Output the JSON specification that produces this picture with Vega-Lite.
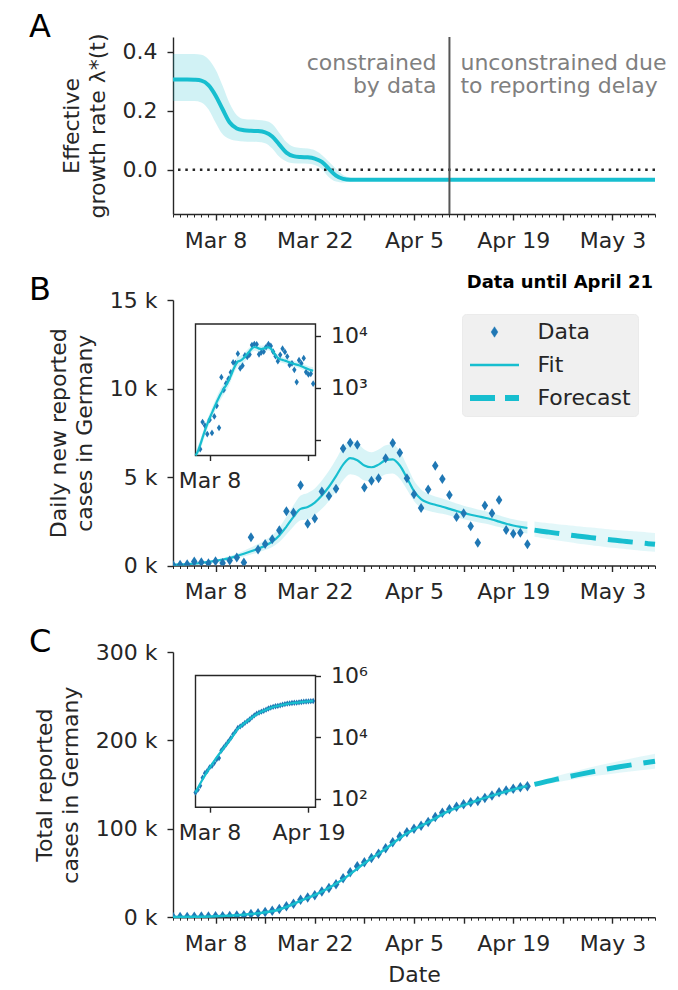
{
 "$schema": "https://vega.github.io/schema/vega-lite/v6.json",
 "padding": {"left": 29, "top": 11, "right": 4, "bottom": 0},
 "background": "white",
 "spacing": 86,
 "bounds": "flush",
 "resolve": {"scale": {"color": "independent"}, "legend": {"color": "independent"}},
 "datasets": {
  "rate": [
   {"date":"2020-03-02","mean":0.306,"lo":0.233,"hi":0.392},
   {"date":"2020-03-03","mean":0.306,"lo":0.233,"hi":0.392},
   {"date":"2020-03-04","mean":0.306,"lo":0.233,"hi":0.392},
   {"date":"2020-03-05","mean":0.305,"lo":0.233,"hi":0.392},
   {"date":"2020-03-06","mean":0.302,"lo":0.228,"hi":0.39},
   {"date":"2020-03-07","mean":0.287,"lo":0.205,"hi":0.375},
   {"date":"2020-03-08","mean":0.252,"lo":0.16,"hi":0.34},
   {"date":"2020-03-09","mean":0.205,"lo":0.12,"hi":0.285},
   {"date":"2020-03-10","mean":0.16,"lo":0.104,"hi":0.225},
   {"date":"2020-03-11","mean":0.14,"lo":0.098,"hi":0.185},
   {"date":"2020-03-12","mean":0.134,"lo":0.096,"hi":0.172},
   {"date":"2020-03-13","mean":0.132,"lo":0.095,"hi":0.17},
   {"date":"2020-03-14","mean":0.131,"lo":0.094,"hi":0.169},
   {"date":"2020-03-15","mean":0.127,"lo":0.09,"hi":0.166},
   {"date":"2020-03-16","mean":0.113,"lo":0.072,"hi":0.155},
   {"date":"2020-03-17","mean":0.085,"lo":0.044,"hi":0.125},
   {"date":"2020-03-18","mean":0.058,"lo":0.028,"hi":0.094},
   {"date":"2020-03-19","mean":0.046,"lo":0.022,"hi":0.078},
   {"date":"2020-03-20","mean":0.043,"lo":0.021,"hi":0.074},
   {"date":"2020-03-21","mean":0.042,"lo":0.02,"hi":0.072},
   {"date":"2020-03-22","mean":0.038,"lo":0.016,"hi":0.066},
   {"date":"2020-03-23","mean":0.027,"lo":0.002,"hi":0.05},
   {"date":"2020-03-24","mean":0.003,"lo":-0.025,"hi":0.027},
   {"date":"2020-03-25","mean":-0.02,"lo":-0.04,"hi":0.003},
   {"date":"2020-03-26","mean":-0.031,"lo":-0.043,"hi":-0.018},
   {"date":"2020-03-27","mean":-0.034,"lo":-0.04,"hi":-0.027},
   {"date":"2020-03-28","mean":-0.034,"lo":-0.038,"hi":-0.03},
   {"date":"2020-04-10","mean":-0.034,"lo":-0.037,"hi":-0.031},
   {"date":"2020-05-09","mean":-0.034,"lo":-0.037,"hi":-0.031}
  ],
  "obs": [
   {"date":"2020-03-02","cases":29,"total":159},
   {"date":"2020-03-03","cases":37,"total":196},
   {"date":"2020-03-04","cases":66,"total":262},
   {"date":"2020-03-05","cases":220,"total":482},
   {"date":"2020-03-06","cases":188,"total":670},
   {"date":"2020-03-07","cases":129,"total":799},
   {"date":"2020-03-08","cases":241,"total":1040},
   {"date":"2020-03-09","cases":136,"total":1176},
   {"date":"2020-03-10","cases":281,"total":1457},
   {"date":"2020-03-11","cases":451,"total":1908},
   {"date":"2020-03-12","cases":170,"total":2078},
   {"date":"2020-03-13","cases":1597,"total":3675},
   {"date":"2020-03-14","cases":910,"total":4585},
   {"date":"2020-03-15","cases":1210,"total":5795},
   {"date":"2020-03-16","cases":1477,"total":7272},
   {"date":"2020-03-17","cases":1985,"total":9257},
   {"date":"2020-03-18","cases":3070,"total":12327},
   {"date":"2020-03-19","cases":2993,"total":15320},
   {"date":"2020-03-20","cases":4528,"total":19848},
   {"date":"2020-03-21","cases":2365,"total":22213},
   {"date":"2020-03-22","cases":2660,"total":24873},
   {"date":"2020-03-23","cases":4183,"total":29056},
   {"date":"2020-03-24","cases":3930,"total":32986},
   {"date":"2020-03-25","cases":4337,"total":37323},
   {"date":"2020-03-26","cases":6615,"total":43938},
   {"date":"2020-03-27","cases":6933,"total":50871},
   {"date":"2020-03-28","cases":6824,"total":57695},
   {"date":"2020-03-29","cases":4400,"total":62095},
   {"date":"2020-03-30","cases":4790,"total":66885},
   {"date":"2020-03-31","cases":4923,"total":71808},
   {"date":"2020-04-01","cases":6064,"total":77872},
   {"date":"2020-04-02","cases":6922,"total":84794},
   {"date":"2020-04-03","cases":6365,"total":91159},
   {"date":"2020-04-04","cases":4933,"total":96092},
   {"date":"2020-04-05","cases":4031,"total":100123},
   {"date":"2020-04-06","cases":3251,"total":103374},
   {"date":"2020-04-07","cases":4289,"total":107663},
   {"date":"2020-04-08","cases":5633,"total":113296},
   {"date":"2020-04-09","cases":4885,"total":118181},
   {"date":"2020-04-10","cases":3990,"total":122171},
   {"date":"2020-04-11","cases":2737,"total":124908},
   {"date":"2020-04-12","cases":2946,"total":127854},
   {"date":"2020-04-13","cases":2218,"total":130072},
   {"date":"2020-04-14","cases":1287,"total":131359},
   {"date":"2020-04-15","cases":3394,"total":134753},
   {"date":"2020-04-16","cases":2945,"total":137698},
   {"date":"2020-04-17","cases":3699,"total":141397},
   {"date":"2020-04-18","cases":2000,"total":143397},
   {"date":"2020-04-19","cases":1800,"total":145197},
   {"date":"2020-04-20","cases":1850,"total":147047},
   {"date":"2020-04-21","cases":1200,"total":148247}
  ],
  "fitB": [
   {"date":"2020-03-02","fit":45,"lo":35,"hi":58},
   {"date":"2020-03-03","fit":60,"lo":47,"hi":76},
   {"date":"2020-03-04","fit":80,"lo":62,"hi":100},
   {"date":"2020-03-05","fit":110,"lo":86,"hi":138},
   {"date":"2020-03-06","fit":150,"lo":118,"hi":188},
   {"date":"2020-03-07","fit":200,"lo":158,"hi":250},
   {"date":"2020-03-08","fit":260,"lo":205,"hi":325},
   {"date":"2020-03-09","fit":330,"lo":260,"hi":415},
   {"date":"2020-03-10","fit":420,"lo":330,"hi":530},
   {"date":"2020-03-11","fit":530,"lo":415,"hi":670},
   {"date":"2020-03-12","fit":660,"lo":515,"hi":840},
   {"date":"2020-03-13","fit":800,"lo":620,"hi":1020},
   {"date":"2020-03-14","fit":950,"lo":740,"hi":1210},
   {"date":"2020-03-15","fit":1120,"lo":870,"hi":1430},
   {"date":"2020-03-16","fit":1350,"lo":1050,"hi":1720},
   {"date":"2020-03-17","fit":1700,"lo":1330,"hi":2150},
   {"date":"2020-03-18","fit":2200,"lo":1750,"hi":2750},
   {"date":"2020-03-19","fit":2750,"lo":2200,"hi":3400},
   {"date":"2020-03-20","fit":3200,"lo":2550,"hi":3950},
   {"date":"2020-03-21","fit":3300,"lo":2600,"hi":4100},
   {"date":"2020-03-22","fit":3550,"lo":2850,"hi":4350},
   {"date":"2020-03-23","fit":3950,"lo":3200,"hi":4800},
   {"date":"2020-03-24","fit":4450,"lo":3650,"hi":5350},
   {"date":"2020-03-25","fit":5050,"lo":4200,"hi":6000},
   {"date":"2020-03-26","fit":5700,"lo":4800,"hi":6700},
   {"date":"2020-03-27","fit":6070,"lo":5150,"hi":7050},
   {"date":"2020-03-28","fit":5950,"lo":5050,"hi":6900},
   {"date":"2020-03-29","fit":5650,"lo":4800,"hi":6550},
   {"date":"2020-03-30","fit":5550,"lo":4750,"hi":6400},
   {"date":"2020-03-31","fit":5700,"lo":4900,"hi":6550},
   {"date":"2020-04-01","fit":5950,"lo":5150,"hi":6800},
   {"date":"2020-04-02","fit":6000,"lo":5200,"hi":6850},
   {"date":"2020-04-03","fit":5650,"lo":4900,"hi":6450},
   {"date":"2020-04-04","fit":4950,"lo":4300,"hi":5650},
   {"date":"2020-04-05","fit":4200,"lo":3650,"hi":4800},
   {"date":"2020-04-06","fit":3750,"lo":3250,"hi":4300},
   {"date":"2020-04-07","fit":3550,"lo":3100,"hi":4050},
   {"date":"2020-04-08","fit":3430,"lo":3000,"hi":3900},
   {"date":"2020-04-09","fit":3320,"lo":2920,"hi":3780},
   {"date":"2020-04-10","fit":3200,"lo":2820,"hi":3640},
   {"date":"2020-04-11","fit":3080,"lo":2720,"hi":3500},
   {"date":"2020-04-12","fit":2970,"lo":2620,"hi":3380},
   {"date":"2020-04-13","fit":2870,"lo":2530,"hi":3270},
   {"date":"2020-04-14","fit":2780,"lo":2450,"hi":3170},
   {"date":"2020-04-15","fit":2700,"lo":2370,"hi":3080},
   {"date":"2020-04-16","fit":2600,"lo":2280,"hi":2970},
   {"date":"2020-04-17","fit":2480,"lo":2170,"hi":2840},
   {"date":"2020-04-18","fit":2360,"lo":2060,"hi":2710},
   {"date":"2020-04-19","fit":2260,"lo":1960,"hi":2610},
   {"date":"2020-04-20","fit":2180,"lo":1880,"hi":2530},
   {"date":"2020-04-21","fit":2120,"lo":1810,"hi":2480}
  ],
  "fcB": [
   {"date":"2020-04-22","fit":2000,"lo":1620,"hi":2480},
   {"date":"2020-04-23","fit":1940,"lo":1560,"hi":2430},
   {"date":"2020-04-24","fit":1885,"lo":1490,"hi":2390},
   {"date":"2020-04-25","fit":1830,"lo":1430,"hi":2350},
   {"date":"2020-04-26","fit":1775,"lo":1370,"hi":2300},
   {"date":"2020-04-27","fit":1720,"lo":1310,"hi":2260},
   {"date":"2020-04-28","fit":1670,"lo":1250,"hi":2220},
   {"date":"2020-04-29","fit":1620,"lo":1200,"hi":2180},
   {"date":"2020-04-30","fit":1575,"lo":1150,"hi":2140},
   {"date":"2020-05-01","fit":1530,"lo":1100,"hi":2100},
   {"date":"2020-05-02","fit":1485,"lo":1050,"hi":2060},
   {"date":"2020-05-03","fit":1440,"lo":1000,"hi":2020},
   {"date":"2020-05-04","fit":1400,"lo":960,"hi":1990},
   {"date":"2020-05-05","fit":1355,"lo":920,"hi":1960},
   {"date":"2020-05-06","fit":1315,"lo":880,"hi":1930},
   {"date":"2020-05-07","fit":1275,"lo":840,"hi":1900},
   {"date":"2020-05-08","fit":1235,"lo":810,"hi":1870},
   {"date":"2020-05-09","fit":1195,"lo":780,"hi":1840}
  ],
  "fitC": [
   {"date":"2020-03-02","fit":160,"lo":150,"hi":170},
   {"date":"2020-03-05","fit":420,"lo":395,"hi":445},
   {"date":"2020-03-08","fit":1000,"lo":950,"hi":1060},
   {"date":"2020-03-11","fit":2200,"lo":2080,"hi":2330},
   {"date":"2020-03-14","fit":4400,"lo":4150,"hi":4650},
   {"date":"2020-03-17","fit":8700,"lo":8300,"hi":9100},
   {"date":"2020-03-20","fit":18500,"lo":17800,"hi":19300},
   {"date":"2020-03-23","fit":29000,"lo":28000,"hi":30000},
   {"date":"2020-03-26","fit":43000,"lo":41700,"hi":44300},
   {"date":"2020-03-29","fit":61000,"lo":59300,"hi":62700},
   {"date":"2020-04-01","fit":77500,"lo":75500,"hi":79500},
   {"date":"2020-04-04","fit":95000,"lo":92800,"hi":97200},
   {"date":"2020-04-07","fit":107500,"lo":105000,"hi":110000},
   {"date":"2020-04-10","fit":120500,"lo":117800,"hi":123200},
   {"date":"2020-04-13","fit":129500,"lo":126600,"hi":132400},
   {"date":"2020-04-16","fit":137500,"lo":134300,"hi":140700},
   {"date":"2020-04-19","fit":144500,"lo":141000,"hi":148000},
   {"date":"2020-04-21","fit":148500,"lo":144800,"hi":152200}
  ],
  "fcC": [
   {"date":"2020-04-22","fit":150200,"lo":148000,"hi":152500},
   {"date":"2020-04-25","fit":155900,"lo":152500,"hi":159500},
   {"date":"2020-04-28","fit":161000,"lo":156500,"hi":165800},
   {"date":"2020-05-01","fit":165800,"lo":160200,"hi":171500},
   {"date":"2020-05-04","fit":170100,"lo":163500,"hi":176800},
   {"date":"2020-05-07","fit":174000,"lo":166300,"hi":181800},
   {"date":"2020-05-09","fit":176500,"lo":168000,"hi":185000}
  ]
 },
 "vconcat": [
  {
   "width": 482, "height": 177,
   "layer": [
    {"data": {"name": "rate"},
     "mark": {"type": "area", "interpolate": "monotone", "color": "#17becf", "opacity": 0.2},
     "encoding": {
      "x": {"field": "date", "type": "temporal", "scale": {"type": "utc", "domain": [{"year":2020,"month":3,"date":2,"utc":true},{"year":2020,"month":5,"date":9,"utc":true}]},
            "axis": {"orient": "bottom", "values": [{"year":2020,"month":3,"date":8,"utc":true},{"year":2020,"month":3,"date":15,"utc":true},{"year":2020,"month":3,"date":22,"utc":true},{"year":2020,"month":3,"date":29,"utc":true},{"year":2020,"month":4,"date":5,"utc":true},{"year":2020,"month":4,"date":12,"utc":true},{"year":2020,"month":4,"date":19,"utc":true},{"year":2020,"month":4,"date":26,"utc":true},{"year":2020,"month":5,"date":3,"utc":true}], "format": "%b %-d", "labelExpr": "indexof(['Mar 8','Mar 22','Apr 5','Apr 19','May 3'], datum.label) >= 0 ? datum.label : ''", "title": null}},
      "y": {"field": "lo", "type": "quantitative", "scale": {"domain": [-0.15, 0.45], "nice": false, "zero": false},
            "axis": {"orient": "left", "values": [0, 0.2, 0.4], "format": ".1f", "title": ["Effective", "growth rate λ*(t)"], "titleLineHeight": 26}},
      "y2": {"field": "hi"}
     }},
    {"data": {"values": [{}]},
     "mark": {"type": "rule", "color": "#262626", "strokeWidth": 2.5, "strokeDash": [2.5, 4.8]},
     "encoding": {"y": {"datum": 0, "type": "quantitative", "scale": {"domain": [-0.15, 0.45], "nice": false, "zero": false}, "axis": null}}},
    {"data": {"name": "rate"},
     "mark": {"type": "line", "interpolate": "monotone", "color": "#17becf", "strokeWidth": 4},
     "encoding": {
      "x": {"field": "date", "type": "temporal", "scale": {"type": "utc", "domain": [{"year":2020,"month":3,"date":2,"utc":true},{"year":2020,"month":5,"date":9,"utc":true}]},
            "axis": {"orient": "bottom", "tickCount": {"interval": "day", "step": 1}, "labels": false, "domain": false, "tickSize": 3, "tickWidth": 1, "title": null}},
      "y": {"field": "mean", "type": "quantitative", "scale": {"domain": [-0.15, 0.45], "nice": false, "zero": false}, "axis": null}
     }},
    {"data": {"values": [{}]},
     "mark": {"type": "rule", "color": "#555555", "strokeWidth": 2},
     "encoding": {"x": {"datum": {"year":2020,"month":4,"date":10,"utc":true}, "type": "temporal", "scale": {"type": "utc", "domain": [{"year":2020,"month":3,"date":2,"utc":true},{"year":2020,"month":5,"date":9,"utc":true}]}, "axis": null}}},
    {"data": {"values": [{}]},
     "mark": {"type": "text", "text": ["constrained", "by data"], "align": "right", "baseline": "alphabetic", "dx": -13, "dy": 33, "fontSize": 22, "lineHeight": 23, "color": "#808080"},
     "encoding": {
      "x": {"datum": {"year":2020,"month":4,"date":10,"utc":true}, "type": "temporal", "scale": {"type": "utc", "domain": [{"year":2020,"month":3,"date":2,"utc":true},{"year":2020,"month":5,"date":9,"utc":true}]}, "axis": null},
      "y": {"datum": 0.45, "type": "quantitative", "scale": {"domain": [-0.15, 0.45], "nice": false, "zero": false}, "axis": null}
     }},
    {"data": {"values": [{}]},
     "mark": {"type": "text", "text": ["unconstrained due", "to reporting delay"], "align": "left", "baseline": "alphabetic", "dx": 11, "dy": 33, "fontSize": 22, "lineHeight": 23, "color": "#808080"},
     "encoding": {
      "x": {"datum": {"year":2020,"month":4,"date":10,"utc":true}, "type": "temporal", "scale": {"type": "utc", "domain": [{"year":2020,"month":3,"date":2,"utc":true},{"year":2020,"month":5,"date":9,"utc":true}]}, "axis": null},
      "y": {"datum": 0.45, "type": "quantitative", "scale": {"domain": [-0.15, 0.45], "nice": false, "zero": false}, "axis": null}
     }},
    {"data": {"values": [{}]},
     "mark": {"type": "text", "text": "A", "align": "left", "baseline": "alphabetic", "dx": -144, "fontSize": 32, "color": "#000000"},
     "encoding": {
      "x": {"datum": {"year":2020,"month":3,"date":2,"utc":true}, "type": "temporal", "scale": {"type": "utc", "domain": [{"year":2020,"month":3,"date":2,"utc":true},{"year":2020,"month":5,"date":9,"utc":true}]}, "axis": null},
      "y": {"datum": 0.45, "type": "quantitative", "scale": {"domain": [-0.15, 0.45], "nice": false, "zero": false}, "axis": null}
     }}
   ],
   "resolve": {"axis": {"x": "independent", "y": "independent"}}
  },
  {
   "width": 482, "height": 265.5,
   "layer": [
    {
     "layer": [
      {"data": {"name": "fitB"},
       "mark": {"type": "area", "interpolate": "monotone", "color": "#17becf", "opacity": 0.17},
       "encoding": {
        "x": {"field": "date", "type": "temporal", "scale": {"type": "utc", "domain": [{"year":2020,"month":3,"date":2,"utc":true},{"year":2020,"month":5,"date":9,"utc":true}]},
              "axis": {"orient": "bottom", "values": [{"year":2020,"month":3,"date":8,"utc":true},{"year":2020,"month":3,"date":15,"utc":true},{"year":2020,"month":3,"date":22,"utc":true},{"year":2020,"month":3,"date":29,"utc":true},{"year":2020,"month":4,"date":5,"utc":true},{"year":2020,"month":4,"date":12,"utc":true},{"year":2020,"month":4,"date":19,"utc":true},{"year":2020,"month":4,"date":26,"utc":true},{"year":2020,"month":5,"date":3,"utc":true}], "format": "%b %-d", "labelExpr": "indexof(['Mar 8','Mar 22','Apr 5','Apr 19','May 3'], datum.label) >= 0 ? datum.label : ''", "title": null}},
        "y": {"field": "lo", "type": "quantitative", "scale": {"domain": [0, 15000], "nice": false},
              "axis": {"orient": "left", "values": [0, 5000, 10000, 15000], "labelExpr": "(datum.value / 1000) + ' k'", "title": ["Daily new reported", "cases in Germany"], "titleLineHeight": 26}},
        "y2": {"field": "hi"}
       }},
      {"data": {"name": "fcB"},
       "mark": {"type": "area", "interpolate": "monotone", "color": "#17becf", "opacity": 0.12},
       "encoding": {
        "x": {"field": "date", "type": "temporal", "scale": {"type": "utc", "domain": [{"year":2020,"month":3,"date":2,"utc":true},{"year":2020,"month":5,"date":9,"utc":true}]}, "axis": null},
        "y": {"field": "lo", "type": "quantitative", "scale": {"domain": [0, 15000], "nice": false}, "axis": null},
        "y2": {"field": "hi"}
       }},
      {"data": {"name": "fitB"},
       "mark": {"type": "line", "interpolate": "monotone", "strokeWidth": 2.2},
       "encoding": {
        "x": {"field": "date", "type": "temporal", "scale": {"type": "utc", "domain": [{"year":2020,"month":3,"date":2,"utc":true},{"year":2020,"month":5,"date":9,"utc":true}]},
              "axis": {"orient": "bottom", "tickCount": {"interval": "day", "step": 1}, "labels": false, "domain": false, "tickSize": 3, "tickWidth": 1, "title": null}},
        "y": {"field": "fit", "type": "quantitative", "scale": {"domain": [0, 15000], "nice": false}, "axis": null},
        "color": {"datum": "Fit", "type": "nominal", "scale": {"domain": ["Data", "Fit", "Forecast"], "range": ["#1f77b4", "#17becf", "#17becf"]},
                  "legend": {"orient": "none", "legendX": 289, "legendY": 14, "title": null, "fillColor": "#f0f0f0", "strokeColor": "#ebebeb", "cornerRadius": 4, "padding": 7,
                             "labelFont": "DejaVu Sans", "labelFontSize": 22, "labelColor": "#262626", "symbolType": "stroke", "symbolSize": 2400, "clipHeight": 22, "rowPadding": 11, "labelOffset": 32, "symbolOffset": 14.5,
                             "encode": {"symbols": {"update": {
                               "shape": {"signal": "datum.value === 'Data' ? 'M0,-1L0.65,0L0,1L-0.65,0Z' : 'stroke'"},
                               "size": {"signal": "datum.value === 'Data' ? 110 : 2400"},
                               "fill": {"signal": "datum.value === 'Data' ? '#1f77b4' : 'transparent'"},
                               "stroke": {"signal": "datum.value === 'Data' ? '#1f77b4' : '#17becf'"},
                               "strokeWidth": {"signal": "datum.value === 'Data' ? 0.5 : (datum.value === 'Fit' ? 2.5 : 6)"},
                               "strokeDash": {"signal": "datum.value === 'Forecast' ? [25, 10] : [1, 0]"},
                               "opacity": {"value": 1}
                             }}}}}
       }},
      {"data": {"name": "fcB"},
       "mark": {"type": "line", "interpolate": "monotone", "strokeWidth": 5, "strokeDash": [25, 12]},
       "encoding": {
        "x": {"field": "date", "type": "temporal", "scale": {"type": "utc", "domain": [{"year":2020,"month":3,"date":2,"utc":true},{"year":2020,"month":5,"date":9,"utc":true}]}, "axis": null},
        "y": {"field": "fit", "type": "quantitative", "scale": {"domain": [0, 15000], "nice": false}, "axis": null},
        "color": {"datum": "Forecast", "type": "nominal", "scale": {"domain": ["Data", "Fit", "Forecast"], "range": ["#1f77b4", "#17becf", "#17becf"]}}
       }},
      {"data": {"name": "obs"},
       "mark": {"type": "point", "shape": "M0,-1L0.65,0L0,1L-0.65,0Z", "filled": true, "size": 100, "opacity": 1, "clip": true},
       "encoding": {
        "x": {"field": "date", "type": "temporal", "scale": {"type": "utc", "domain": [{"year":2020,"month":3,"date":2,"utc":true},{"year":2020,"month":5,"date":9,"utc":true}]}, "axis": null},
        "y": {"field": "cases", "type": "quantitative", "scale": {"domain": [0, 15000], "nice": false}, "axis": null},
        "color": {"datum": "Data", "type": "nominal", "scale": {"domain": ["Data", "Fit", "Forecast"], "range": ["#1f77b4", "#17becf", "#17becf"]}}
       }},
      {"data": {"values": [{}]},
       "mark": {"type": "text", "text": "Data until April 21", "align": "right", "baseline": "alphabetic", "dx": -2, "dy": -12.5, "fontSize": 18, "fontWeight": "bold", "color": "#000000"},
       "encoding": {
        "x": {"datum": {"year":2020,"month":5,"date":9,"utc":true}, "type": "temporal", "scale": {"type": "utc", "domain": [{"year":2020,"month":3,"date":2,"utc":true},{"year":2020,"month":5,"date":9,"utc":true}]}, "axis": null},
        "y": {"datum": 15000, "type": "quantitative", "scale": {"domain": [0, 15000], "nice": false}, "axis": null}
       }},
      {"data": {"values": [{}]},
       "mark": {"type": "text", "text": "B", "align": "left", "baseline": "alphabetic", "dx": -144, "fontSize": 32, "color": "#000000"},
       "encoding": {
        "x": {"datum": {"year":2020,"month":3,"date":2,"utc":true}, "type": "temporal", "scale": {"type": "utc", "domain": [{"year":2020,"month":3,"date":2,"utc":true},{"year":2020,"month":5,"date":9,"utc":true}]}, "axis": null},
        "y": {"datum": 15000, "type": "quantitative", "scale": {"domain": [0, 15000], "nice": false}, "axis": null}
       }}
     ],
     "resolve": {"axis": {"x": "independent", "y": "independent"}}
    },
    {
     "layer": [
      {"data": {"values": [{}]},
       "mark": {"type": "rect", "fill": "white", "stroke": "#262626", "strokeWidth": 1.4},
       "encoding": {
        "x": {"datum": {"year":2020,"month":3,"date":2,"utc":true}, "type": "temporal", "scale": {"type": "utc", "domain": [{"year":2020,"month":3,"date":2,"utc":true},{"year":2020,"month":4,"date":22,"utc":true}], "range": [22.5, 142.5]},
              "axis": {"orient": "bottom", "values": [{"year":2020,"month":3,"date":8,"utc":true},{"year":2020,"month":4,"date":19,"utc":true}], "format": "%b %-d", "labelExpr": "datum.label == 'Mar 8' ? datum.label : ''", "title": null, "offset": -110, "domain": false, "zindex": 1, "tickSize": 5}},
        "x2": {"datum": {"year":2020,"month":4,"date":22,"utc":true}},
        "y": {"datum": 50, "type": "quantitative", "scale": {"type": "log", "domain": [50, 16800], "range": [155.5, 24], "nice": false, "clamp": true},
              "axis": {"orient": "right", "values": [100, 1000, 10000], "labelExpr": "datum.value == 10000 ? '10⁴' : (datum.value == 1000 ? '10³' : '')", "title": null, "offset": -339.5, "domain": false, "zindex": 1, "tickSize": 5}},
        "y2": {"datum": 16800}
       }},
      {"data": {"name": "fitB"},
       "mark": {"type": "area", "interpolate": "monotone", "color": "#17becf", "opacity": 0.17},
       "encoding": {
        "x": {"field": "date", "type": "temporal", "scale": {"type": "utc", "domain": [{"year":2020,"month":3,"date":2,"utc":true},{"year":2020,"month":4,"date":22,"utc":true}], "range": [22.5, 142.5]}, "axis": null},
        "y": {"field": "lo", "type": "quantitative", "scale": {"type": "log", "domain": [50, 16800], "range": [155.5, 24], "nice": false, "clamp": true}, "axis": null},
        "y2": {"field": "hi"}
       }},
      {"data": {"name": "obs"},
       "transform": [{"filter": "datum.cases >= 50"}],
       "mark": {"type": "point", "shape": "M0,-1L0.65,0L0,1L-0.65,0Z", "filled": true, "size": 45, "opacity": 1, "color": "#1f77b4"},
       "encoding": {
        "x": {"field": "date", "type": "temporal", "scale": {"type": "utc", "domain": [{"year":2020,"month":3,"date":2,"utc":true},{"year":2020,"month":4,"date":22,"utc":true}], "range": [22.5, 142.5]}, "axis": null},
        "y": {"field": "cases", "type": "quantitative", "scale": {"type": "log", "domain": [50, 16800], "range": [155.5, 24], "nice": false, "clamp": true}, "axis": null}
       }},
      {"data": {"name": "fitB"},
       "mark": {"type": "line", "interpolate": "monotone", "color": "#17becf", "strokeWidth": 2.2},
       "encoding": {
        "x": {"field": "date", "type": "temporal", "scale": {"type": "utc", "domain": [{"year":2020,"month":3,"date":2,"utc":true},{"year":2020,"month":4,"date":22,"utc":true}], "range": [22.5, 142.5]}, "axis": null},
        "y": {"field": "fit", "type": "quantitative", "scale": {"type": "log", "domain": [50, 16800], "range": [155.5, 24], "nice": false, "clamp": true}, "axis": null}
       }}
     ],
     "resolve": {"axis": {"x": "independent", "y": "independent"}}
    }
   ],
   "resolve": {"scale": {"x": "independent", "y": "independent"}}
  },
  {
   "width": 482, "height": 265.2,
   "layer": [
    {
     "layer": [
      {"data": {"name": "fitC"},
       "mark": {"type": "area", "interpolate": "monotone", "color": "#17becf", "opacity": 0.12},
       "encoding": {
        "x": {"field": "date", "type": "temporal", "scale": {"type": "utc", "domain": [{"year":2020,"month":3,"date":2,"utc":true},{"year":2020,"month":5,"date":9,"utc":true}]},
              "axis": {"orient": "bottom", "values": [{"year":2020,"month":3,"date":8,"utc":true},{"year":2020,"month":3,"date":15,"utc":true},{"year":2020,"month":3,"date":22,"utc":true},{"year":2020,"month":3,"date":29,"utc":true},{"year":2020,"month":4,"date":5,"utc":true},{"year":2020,"month":4,"date":12,"utc":true},{"year":2020,"month":4,"date":19,"utc":true},{"year":2020,"month":4,"date":26,"utc":true},{"year":2020,"month":5,"date":3,"utc":true}], "format": "%b %-d", "labelExpr": "indexof(['Mar 8','Mar 22','Apr 5','Apr 19','May 3'], datum.label) >= 0 ? datum.label : ''", "title": "Date", "titlePadding": 10}},
        "y": {"field": "lo", "type": "quantitative", "scale": {"domain": [0, 300000], "nice": false},
              "axis": {"orient": "left", "values": [0, 100000, 200000, 300000], "labelExpr": "(datum.value / 1000) + ' k'", "title": ["Total reported", "cases in Germany"], "titleLineHeight": 26}},
        "y2": {"field": "hi"}
       }},
      {"data": {"name": "fcC"},
       "mark": {"type": "area", "interpolate": "monotone", "color": "#17becf", "opacity": 0.12},
       "encoding": {
        "x": {"field": "date", "type": "temporal", "scale": {"type": "utc", "domain": [{"year":2020,"month":3,"date":2,"utc":true},{"year":2020,"month":5,"date":9,"utc":true}]}, "axis": null},
        "y": {"field": "lo", "type": "quantitative", "scale": {"domain": [0, 300000], "nice": false}, "axis": null},
        "y2": {"field": "hi"}
       }},
      {"data": {"name": "obs"},
       "mark": {"type": "point", "shape": "M0,-1L0.65,0L0,1L-0.65,0Z", "filled": true, "size": 110, "opacity": 1, "color": "#1f77b4", "clip": true},
       "encoding": {
        "x": {"field": "date", "type": "temporal", "scale": {"type": "utc", "domain": [{"year":2020,"month":3,"date":2,"utc":true},{"year":2020,"month":5,"date":9,"utc":true}]}, "axis": null},
        "y": {"field": "total", "type": "quantitative", "scale": {"domain": [0, 300000], "nice": false}, "axis": null}
       }},
      {"data": {"name": "fitC"},
       "mark": {"type": "line", "interpolate": "monotone", "color": "#17becf", "strokeWidth": 2.5},
       "encoding": {
        "x": {"field": "date", "type": "temporal", "scale": {"type": "utc", "domain": [{"year":2020,"month":3,"date":2,"utc":true},{"year":2020,"month":5,"date":9,"utc":true}]},
              "axis": {"orient": "bottom", "tickCount": {"interval": "day", "step": 1}, "labels": false, "domain": false, "tickSize": 3, "tickWidth": 1, "title": null}},
        "y": {"field": "fit", "type": "quantitative", "scale": {"domain": [0, 300000], "nice": false}, "axis": null}
       }},
      {"data": {"name": "fcC"},
       "mark": {"type": "line", "interpolate": "monotone", "color": "#17becf", "strokeWidth": 5, "strokeDash": [25, 12]},
       "encoding": {
        "x": {"field": "date", "type": "temporal", "scale": {"type": "utc", "domain": [{"year":2020,"month":3,"date":2,"utc":true},{"year":2020,"month":5,"date":9,"utc":true}]}, "axis": null},
        "y": {"field": "fit", "type": "quantitative", "scale": {"domain": [0, 300000], "nice": false}, "axis": null}
       }},
      {"data": {"values": [{}]},
       "mark": {"type": "text", "text": "C", "align": "left", "baseline": "alphabetic", "dx": -144, "fontSize": 32, "color": "#000000"},
       "encoding": {
        "x": {"datum": {"year":2020,"month":3,"date":2,"utc":true}, "type": "temporal", "scale": {"type": "utc", "domain": [{"year":2020,"month":3,"date":2,"utc":true},{"year":2020,"month":5,"date":9,"utc":true}]}, "axis": null},
        "y": {"datum": 300000, "type": "quantitative", "scale": {"domain": [0, 300000], "nice": false}, "axis": null}
       }}
     ],
     "resolve": {"axis": {"x": "independent", "y": "independent"}}
    },
    {
     "layer": [
      {"data": {"values": [{}]},
       "mark": {"type": "rect", "fill": "white", "stroke": "#262626", "strokeWidth": 1.4},
       "encoding": {
        "x": {"datum": {"year":2020,"month":3,"date":2,"utc":true}, "type": "temporal", "scale": {"type": "utc", "domain": [{"year":2020,"month":3,"date":2,"utc":true},{"year":2020,"month":4,"date":22,"utc":true}], "range": [22.5, 142.5]},
              "axis": {"orient": "bottom", "values": [{"year":2020,"month":3,"date":8,"utc":true},{"year":2020,"month":4,"date":19,"utc":true}], "format": "%b %-d", "title": null, "offset": -110, "domain": false, "zindex": 1, "tickSize": 5}},
        "x2": {"datum": {"year":2020,"month":4,"date":22,"utc":true}},
        "y": {"datum": 53, "type": "quantitative", "scale": {"type": "log", "domain": [53, 1000000], "range": [155.2, 23.5], "nice": false, "clamp": true},
              "axis": {"orient": "right", "values": [100, 10000, 1000000], "labelExpr": "datum.value == 1000000 ? '10⁶' : (datum.value == 10000 ? '10⁴' : '10²')", "title": null, "offset": -339.5, "domain": false, "zindex": 1, "tickSize": 5}},
        "y2": {"datum": 1000000}
       }},
      {"data": {"name": "obs"},
       "mark": {"type": "point", "shape": "M0,-1L0.65,0L0,1L-0.65,0Z", "filled": true, "size": 40, "opacity": 1, "color": "#1f77b4"},
       "encoding": {
        "x": {"field": "date", "type": "temporal", "scale": {"type": "utc", "domain": [{"year":2020,"month":3,"date":2,"utc":true},{"year":2020,"month":4,"date":22,"utc":true}], "range": [22.5, 142.5]}, "axis": null},
        "y": {"field": "total", "type": "quantitative", "scale": {"type": "log", "domain": [53, 1000000], "range": [155.2, 23.5], "nice": false, "clamp": true}, "axis": null}
       }},
      {"data": {"name": "fitC"},
       "mark": {"type": "line", "interpolate": "monotone", "color": "#17becf", "strokeWidth": 2.2},
       "encoding": {
        "x": {"field": "date", "type": "temporal", "scale": {"type": "utc", "domain": [{"year":2020,"month":3,"date":2,"utc":true},{"year":2020,"month":4,"date":22,"utc":true}], "range": [22.5, 142.5]}, "axis": null},
        "y": {"field": "fit", "type": "quantitative", "scale": {"type": "log", "domain": [53, 1000000], "range": [155.2, 23.5], "nice": false, "clamp": true}, "axis": null}
       }}
     ],
     "resolve": {"axis": {"x": "independent", "y": "independent"}}
    }
   ],
   "resolve": {"scale": {"x": "independent", "y": "independent"}}
  }
 ],
 "config": {
  "font": "DejaVu Sans",
  "view": {"stroke": null},
  "axis": {
   "labelFont": "DejaVu Sans", "labelFontSize": 22, "labelColor": "#262626",
   "titleFont": "DejaVu Sans", "titleFontSize": 22, "titleFontWeight": "normal", "titleColor": "#262626",
   "domainColor": "#262626", "domainWidth": 1.4, "tickColor": "#262626", "tickWidth": 1.4, "tickSize": 6,
   "grid": false, "labelFlush": false, "labelOverlap": false, "labelPadding": 10, "titlePadding": 13
  }
 }
}
